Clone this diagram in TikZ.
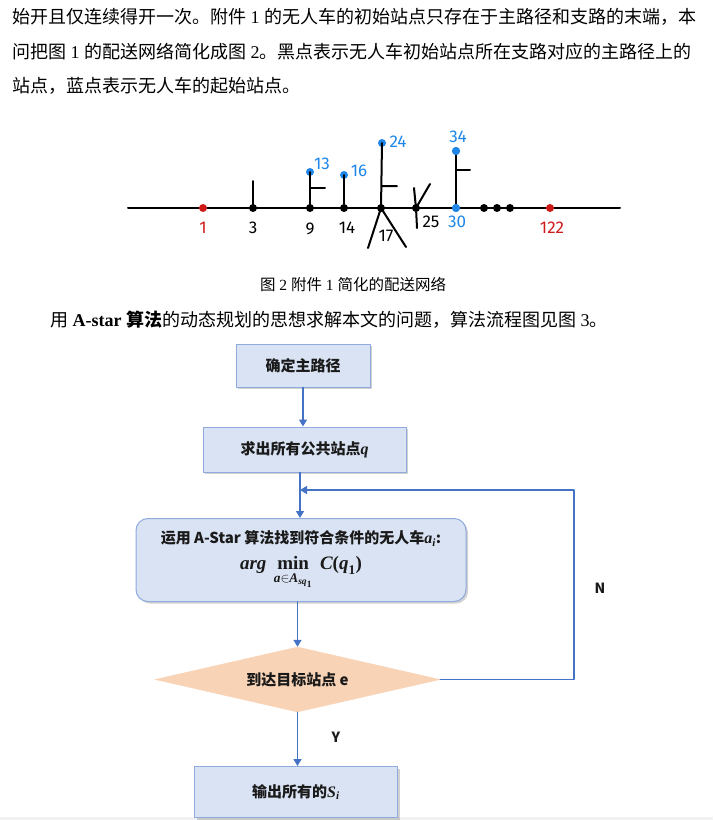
\RequirePackage{fix-cm}
\documentclass[tikz,border=0pt]{standalone}
\usepackage{amsmath}
\usepackage{fontspec}
\setmainfont{Liberation Serif}
\newfontfamily\cjk{Noto Sans CJK SC}
\newfontfamily\hand{Fira Sans}
\newcommand\bfit[1]{\text{\rmfamily\bfseries\itshape #1}}
\newcommand\bfup[1]{\text{\rmfamily\bfseries #1}}
\usetikzlibrary{arrows.meta,shapes.geometric,shadows}
\definecolor{ink}{HTML}{1A1A1A}
\definecolor{route}{HTML}{4472C4}
\definecolor{boxfill}{HTML}{DAE3F3}
\definecolor{boxedge}{HTML}{8FAADC}
\definecolor{peach}{HTML}{F8D3B6}
\definecolor{station}{HTML}{1E86E8}
\definecolor{depot}{HTML}{D01A1A}

\begin{document}
\begin{tikzpicture}[x=1pt,y=-1pt,line cap=round,line join=round,
  body/.style={anchor=west,inner sep=0pt,font=\fontsize{18}{20}\selectfont},
  road/.style={line width=2pt},
  dot/.style={circle,fill,inner sep=0pt,minimum size=8pt},
  tag/.style={inner sep=0pt,font=\hand\fontsize{17}{17}\selectfont},
  procbox/.style={draw=boxedge,fill=boxfill,line width=1pt,text=ink,
    font=\cjk\bfseries\fontsize{15}{18}\selectfont,
    drop shadow={shadow xshift=2pt,shadow yshift=-2pt,fill=black!40,opacity=.45}},
  flow/.style={route,line width=1.4pt,-{Triangle[length=7pt,width=8pt]}}]
  \useasboundingbox (0,0) rectangle (713,820);
  \fill[gray!10] (0,817) rectangle (713,820);

  % Running text above and below the figure.
  \node[body] (line1) at (12,17)
    {{\cjk 始开且仅连续得开一次。附件} 1 {\cjk 的无人车的初始站点只存在于主路径和支路的末端，本}};
  \node[body] (line2) at (12,52)
    {{\cjk 问把图} 1 {\cjk 的配送网络简化成图} 2{\cjk 。黑点表示无人车初始站点所在支路对应的主路径上的}};
  \node[body] (line3) at (12,86) {{\cjk 站点，蓝点表示无人车的起始站点。}};
  \node[inner sep=0pt,font=\fontsize{15.5}{18}\selectfont] (caption) at (353,285)
    {{\cjk 图} 2 {\cjk 附件} 1 {\cjk 简化的配送网络}};
  \node[body] (line4) at (50,320)
    {{\cjk 用} \textbf{A-star {\cjk 算法}}{\cjk 的动态规划的思想求解本文的问题，算法流程图见图} 3{\cjk 。}};

  % Simplified delivery network.
  \coordinate (west) at (128,208);
  \coordinate (east) at (620,208);
  \draw[road] (west) -- (east);
  \foreach \nm/\x in {p3/253,p9/310,p14/344,p17/381,p25/416}
    \node[dot] (\nm) at (\x,208) {};
  \node[dot,station] (p30) at (456,208) {};
  \node[dot,station] (p13) at (310,172) {};
  \node[dot,station] (p16) at (344,175) {};
  \node[dot,station] (p24) at (382,143) {};
  \node[dot,station] (p34) at (456,151) {};
  \coordinate (b3) at (253,181);
  \draw[road] (p3.center) -- (b3);
  \draw[road] (p9.center) -- (p13.center) (310,188) -- (325,188);
  \draw[road] (p14.center) -- (p16.center);
  \draw[road] (p17.center) -- (p24.center) (382,186) -- (397,186);
  \draw[road] (p17.center) -- (368,248) (p17.center) -- (406,247);
  \draw[road] (p25.center) -- (414,188) (p25.center) -- (430,184)
    (p25.center) -- (417,228);
  \draw[road] (p30.center) -- (p34.center) (456,170) -- (470,170);
  \node[dot,station] at (p30) {};
  \node[dot,station] at (p34) {};
  \foreach \nm/\x in {e1/484,e2/497,e3/510}
    \node[dot] (\nm) at (\x,208) {};
  \node[dot,depot] (p1) at (203,208) {};
  \node[dot,depot] (p122) at (550,208) {};

  \foreach \nm/\x/\y/\t in {l3/253/228/3,l9/310/229/9,l14/347/228/14,
      l17/386/236/17,l25/431/222/25}
    \node[tag] (\nm) at (\x,\y) {\t};
  \foreach \nm/\x/\y/\t in {l13/322/164/13,l16/359/171/16,l24/398/142/24,
      l34/458/137/34,l30/457/222/30}
    \node[tag,station] (\nm) at (\x,\y) {\t};
  \node[tag,depot] (l1) at (203,228) {1};
  \node[tag,depot] (l122) at (552,228) {122};

  % Flow chart of the A-star search.
  \node[procbox,minimum width=134pt,minimum height=43pt] (mainpath) at (303,365.5)
    {确定主路径};
  \node[procbox,minimum width=203pt,minimum height=45pt] (common) at (304.5,449.5)
    {求出所有公共站点{\fontsize{16}{18}\selectfont\bfit{q}}};
  \node[procbox,rounded corners=12pt,minimum width=330pt,minimum height=83pt,
        align=center] (search) at (301,560)
    {运用 A-Star 算法找到符合条件的无人车{\fontsize{16}{18}\selectfont$\bfit{a}_{\bfit{i}}$}:\\[8pt]
     {\fontsize{19}{22}\selectfont$\bfit{arg}\ \mathop{\bfup{min}}\limits_{\rule{0pt}{10pt}\bfit{a}\in\bfit{A}_{\bfit{sq}_{\bfup{1}}}}\ \bfit{C}\bfup{(}\bfit{q}_{\bfup{1}}\bfup{)}$}};
  \node[diamond,draw=peach,fill=peach,aspect=4.4,inner sep=0pt,
        minimum width=285pt,minimum height=65pt,text=ink,
        font=\cjk\bfseries\fontsize{15}{18}\selectfont] (goal) at (297.5,679.5)
    {到达目标站点 e};
  \node[procbox,minimum width=203pt,minimum height=51pt] (output) at (296,792)
    {输出所有的{\fontsize{16}{18}\selectfont$\bfit{S}_{\bfit{i}}$}};

  \coordinate (join) at (300,490);
  \coordinate (back) at (574,490);
  \draw[flow] (mainpath.south) -- (mainpath.south |- common.north);
  \draw[flow] (common.south -| join) -- (search.north -| join);
  \draw[flow] (goal.north |- search.south) -- (goal.north);
  \draw[flow] (goal.south) -- (goal.south |- output.north);
  \draw[flow] (goal.east) -| (back) -- (join);
  \node[font=\cjk\bfseries\fontsize{14}{16}\selectfont,text=ink] (yes) at (336,737) {Y};
  \node[font=\cjk\bfseries\fontsize{14}{16}\selectfont,text=ink] (no) at (600,588) {N};
\end{tikzpicture}
\end{document}
